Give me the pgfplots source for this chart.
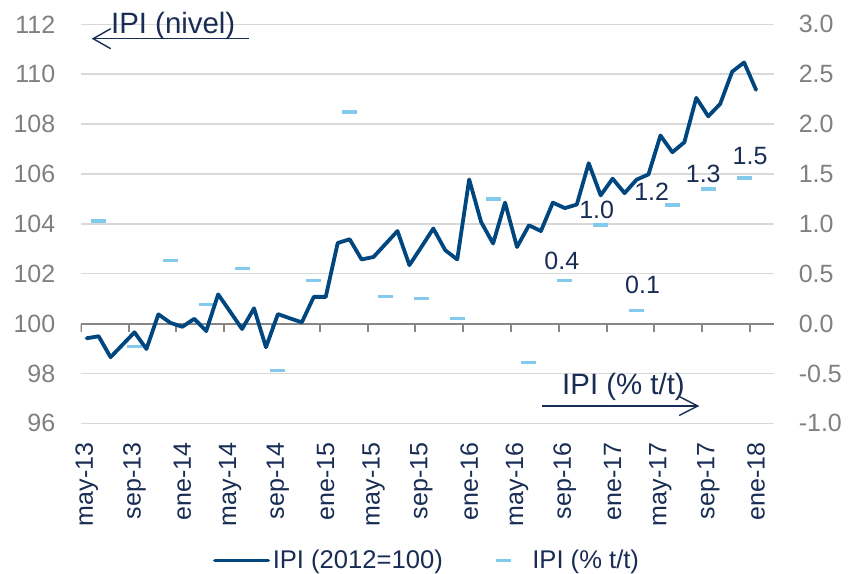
\documentclass[border=0pt]{standalone}
\usepackage{fontspec}
\setmainfont{Liberation Sans}
\usepackage{pgfplots}
\usepackage{pgfplotstable}
\pgfplotsset{compat=1.18}
\usetikzlibrary{arrows.meta}

\definecolor{ipiblue}{RGB}{0,70,127}
\definecolor{qblue}{RGB}{130,202,236}
\definecolor{navy}{RGB}{24,44,84}
\definecolor{tickgray}{RGB}{128,128,128}
\definecolor{gridgray}{RGB}{217,217,217}
\definecolor{axisgray}{RGB}{134,134,134}

% IPI (2012=100), mensual, may-13 = 0
\pgfplotstableread{
x y
0 99.41
1 99.49
2 98.65
3 99.15
4 99.65
5 98.98
6 100.37
7 100.03
8 99.87
9 100.19
10 99.70
11 101.17
12 100.48
13 99.78
14 100.61
15 99.05
16 100.38
17 100.21
18 100.05
19 101.07
20 101.07
21 103.23
22 103.38
23 102.57
24 102.67
25 103.19
26 103.71
27 102.34
28 103.07
29 103.81
30 102.94
31 102.57
32 105.78
33 104.07
34 103.21
35 104.85
36 103.07
37 103.94
38 103.71
39 104.85
40 104.63
41 104.77
42 106.43
43 105.14
44 105.81
45 105.23
46 105.77
47 105.98
48 107.54
49 106.87
50 107.27
51 109.05
52 108.31
53 108.81
54 110.10
55 110.47
56 109.37
}\nivel

% IPI (% t/t), trimestral
\pgfplotstableread{
x y
1 1.03
4 -0.23
7 0.63
10 0.19
13 0.55
16 -0.47
19 0.43
22 2.12
25 0.27
28 0.25
31 0.05
34 1.25
37 -0.39
40 0.43
43 0.99
46 0.13
49 1.19
52 1.35
55 1.46
}\tasa

% etiquetas: desplazamiento en pt
\pgfplotstableread{
x y lab dx dy
40 0.43 0.4 -1.5 9.7
43 0.99 1.0 -2.0 7.35
46 0.13 0.1 3.0 12.85
49 1.19 1.2 -10.35 6.65
52 1.35 1.3 -2.5 7.25
55 1.46 1.5 3.0 10.8
}\etiq

\pgfplotsset{
  base/.style={
    at={(0,0)}, anchor=south west, scale only axis,
    width=346.65pt, height=199.5pt,
    xmin=-0.5, xmax=57.5,
    tick label style={font=\fontsize{12.5}{15}\selectfont},
    /pgf/number format/assume math mode=true,
  },
}

\begin{document}
\begin{tikzpicture}
\path[use as bounding box] (-40.35pt,-75.35pt) rectangle (383.65pt,211.65pt);

% eje derecho: rejilla, linea del cero, tasa trimestral
\begin{axis}[base,
  ymin=-1, ymax=3, ytick={-1,-0.5,0,0.5,1,1.5,2,2.5,3},
  axis x line=none, axis y line*=right,
  y axis line style={draw=none},
  ytick style={draw=none}, major tick length=0pt,
  ymajorgrids, grid style={gridgray, line width=0.75pt},
  yticklabel style={tickgray, inner sep=0pt,
    /pgf/number format/.cd, fixed, fixed zerofill, precision=1},
  yticklabel shift=12.2pt,
]
\draw[axisgray, line width=1pt] (axis cs:-0.5,0) -- (axis cs:57.5,0);
\pgfplotsinvokeforeach{-0.5,3.5,...,55.5}{
  \draw[axisgray, line width=1pt] (axis cs:#1,0) -- ([yshift=-4pt]axis cs:#1,0);
}
\addplot[only marks, mark=-, mark size=3.75pt, qblue,
  mark options={line width=1.75pt, solid}] table {\tasa};
\addplot[draw=none, mark=none, point meta=explicit symbolic,
  nodes near coords,
  visualization depends on={\thisrow{dx} \as \dx},
  visualization depends on={\thisrow{dy} \as \dy},
  every node near coord/.append style={anchor=center, inner sep=0pt,
    xshift=\dx pt, yshift=\dy pt, text=navy,
    font=\fontsize{12.5}{15}\selectfont},
] table[x=x, y=y, meta=lab] {\etiq};
\end{axis}

% eje izquierdo: nivel
\begin{axis}[base,
  ymin=96, ymax=112, ytick={96,98,...,112},
  axis x line*=bottom, axis y line*=left,
  axis line style={draw=none, -},
  major tick length=0pt,
  xtick={0,4,...,56},
  xticklabels={may-13,sep-13,ene-14,may-14,sep-14,ene-15,may-15,sep-15,
    ene-16,may-16,sep-16,ene-17,may-17,sep-17,ene-18},
  xticklabel style={rotate=90, anchor=east, inner sep=0pt, text=navy},
  xticklabel shift=9.5pt,
  yticklabel style={tickgray, inner sep=0pt},
  yticklabel shift=12.5pt,
  legend style={at={(0.5,0)}, anchor=center, yshift=-68.6pt,
    draw=none, fill=none, legend columns=2,
    font=\fontsize{12.8}{15}\selectfont, text=navy,
    nodes={inner xsep=1.3pt, inner ysep=1pt},
    /tikz/every even column/.append style={column sep=15.5pt}},
  legend cell align=left,
]
\addplot[ipiblue, line width=1.9pt, line join=round, line cap=round, mark=none,
  legend image code/.code={\draw (0pt,0pt) -- (26.65pt,0pt);}]
  table {\nivel};
\addlegendentry{IPI (2012=100)}
\addlegendimage{legend image code/.code={
  \path[draw=none] (0pt,0pt) -- (26.65pt,0pt);
  \draw[qblue, line width=1.75pt] (9.6pt,0pt) -- (17.1pt,0pt);}}
\addlegendentry{IPI (\% t/t)}
\end{axis}

% rotulos de ejes con flechas
\draw[navy, line width=0.7pt, -{Straight Barb[length=8.8pt, width=10pt]}]
  (84.15pt,192.3pt) -- (5.5pt,192.3pt);
\node[anchor=base, text=navy, inner sep=0pt, font=\fontsize{14.7}{17}\selectfont]
  at (46.25pt,194.65pt) {IPI (nivel)};
\draw[navy, line width=0.7pt, -{Straight Barb[length=9.3pt, width=9.5pt]}]
  (230.5pt,8.65pt) -- (309.3pt,8.65pt);
\node[anchor=base, text=navy, inner sep=0pt, font=\fontsize{14.7}{17}\selectfont]
  at (271.4pt,14.15pt) {IPI (\% t/t)};
\end{tikzpicture}
\end{document}
